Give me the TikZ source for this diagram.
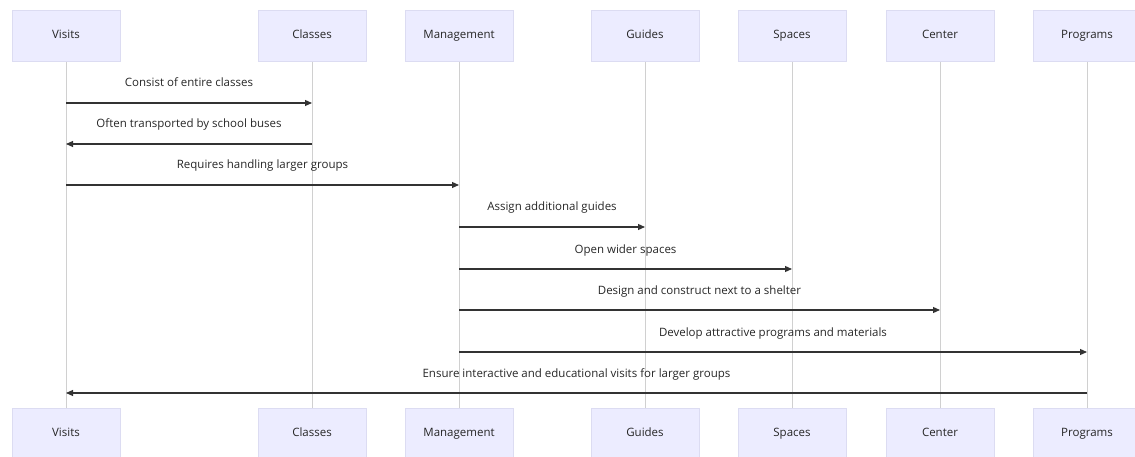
\documentclass[tikz,border=0pt]{standalone}
\usepackage{fontspec}
\setmainfont{Open Sans}
\usetikzlibrary{arrows.meta}
\definecolor{actfill}{HTML}{ECECFF}
\definecolor{actline}{HTML}{DCDCF2}
\definecolor{lifeline}{HTML}{D0D0D0}
\definecolor{msgline}{HTML}{333333}
\begin{document}
\begin{tikzpicture}[x=1pt,y=-1pt,
  actor/.style={draw=actline,fill=actfill,line width=0.6pt,minimum width=108pt,minimum height=51pt,inner sep=0pt,font=\fontsize{11.5}{13}\selectfont,text=black!85,text height=8.5pt,text depth=2.5pt},
  life/.style={draw=lifeline,line width=0.7pt},
  msg/.style={draw=msgline,line width=1.1pt,-{Triangle[length=7pt,width=6pt]}},
  lbl/.style={font=\fontsize{11.5}{13}\selectfont,text=black!85,anchor=base,inner sep=0pt}]
\useasboundingbox (0,0) rectangle (1135,457);
\foreach \n/\x/\t in {v/66/Visits,c/312/Classes,m/459/Management,g/645/Guides,s/792/Spaces,ce/940/Center,p/1087/Programs}{
  \draw[life] (\x,61) -- (\x,408);
  \node[actor] (\n top) at (\x,35.5) {\t};
  \node[actor] (\n bot) at (\x,433.5) {\t};
}
\coordinate (v1) at (66,103); \coordinate (c1) at (312,103);
\coordinate (c2) at (312,144); \coordinate (v2) at (66,144);
\coordinate (v3) at (66,185); \coordinate (m3) at (459,185);
\coordinate (m4) at (459,227); \coordinate (g4) at (645,227);
\coordinate (m5) at (459,269); \coordinate (s5) at (792,269);
\coordinate (m6) at (459,310); \coordinate (ce6) at (940,310);
\coordinate (m7) at (459,352); \coordinate (p7) at (1087,352);
\coordinate (p8) at (1087,393); \coordinate (v8) at (66,393);
\draw[msg] (v1) -- (c1) node[lbl,midway,yshift=16pt] {Consist of entire classes};
\draw[msg] (c2) -- (v2) node[lbl,midway,yshift=16pt] {Often transported by school buses};
\draw[msg] (v3) -- (m3) node[lbl,midway,yshift=16pt] {Requires handling larger groups};
\draw[msg] (m4) -- (g4) node[lbl,midway,yshift=16pt] {Assign additional guides};
\draw[msg] (m5) -- (s5) node[lbl,midway,yshift=16pt] {Open wider spaces};
\draw[msg] (m6) -- (ce6) node[lbl,midway,yshift=16pt] {Design and construct next to a shelter};
\draw[msg] (m7) -- (p7) node[lbl,midway,yshift=16pt] {Develop attractive programs and materials};
\draw[msg] (p8) -- (v8) node[lbl,midway,yshift=16pt] {Ensure interactive and educational visits for larger groups};
\end{tikzpicture}
\end{document}
